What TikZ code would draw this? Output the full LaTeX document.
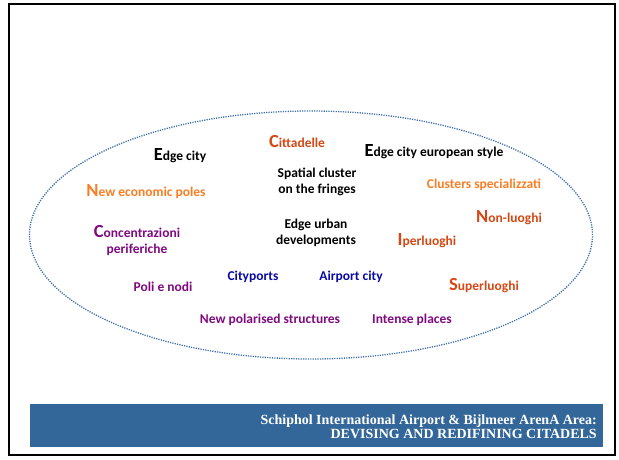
\documentclass[tikz,border=0pt]{standalone}
\usepackage{fontspec}
\setmainfont{Carlito}
\newfontfamily\bannerfont{Liberation Serif}
\usetikzlibrary{shapes.geometric}

\definecolor{ringblue}{RGB}{60,110,170}
\definecolor{bannerblue}{RGB}{52,103,153}
\definecolor{rustred}{RGB}{212,72,20}
\definecolor{lightorange}{RGB}{250,125,35}
\definecolor{plum}{RGB}{128,10,128}
\definecolor{navy}{RGB}{10,10,165}

\newcommand{\bigfirst}[2]{{\fontsize{18.5}{18}\selectfont #1}#2}

\tikzset{
  term/.style={font=\fontsize{13.5}{16}\selectfont\bfseries, align=center, inner sep=1pt},
  blackterm/.style={term, text=black},
  rustterm/.style={term, text=rustred},
  orangeterm/.style={term, text=lightorange},
  plumterm/.style={term, text=plum},
  navyterm/.style={term, text=navy}
}

\begin{document}
\begin{tikzpicture}[x=1pt,y=-1pt]
\useasboundingbox (0,0) rectangle (619,459);
\draw[line width=2.6pt] (9,4) rectangle (615,455);
\node[draw=ringblue, line width=1.3pt, dash pattern=on 1.2pt off 1.2pt, ellipse, minimum width=563pt, minimum height=248pt, inner sep=0pt] (ring) at (311,235) {};

\node[blackterm] (edgecity) at (180,156) {\bigfirst{E}{dge city}};
\node[rustterm] (cittadelle) at (297,141) {\bigfirst{C}{ittadelle}};
\node[blackterm] (edgeeuro) at (434,152) {\bigfirst{E}{dge city european style}};
\node[blackterm] (spatial) at (317,182) {Spatial cluster\\on the fringes};
\node[orangeterm] (neweco) at (146,192) {\bigfirst{N}{ew economic poles}};
\node[orangeterm] (clusters) at (484,185) {Clusters specializzati};
\node[rustterm] (nonluoghi) at (509,218) {\bigfirst{N}{on-luoghi}};
\node[plumterm] (concentr) at (137,240) {\bigfirst{C}{oncentrazioni}\\periferiche};
\node[blackterm] (edgeurban) at (316,233) {Edge urban\\developments};
\node[rustterm] (iperluoghi) at (427,241) {\bigfirst{I}{perluoghi}};
\node[navyterm] (cityports) at (253,277) {Cityports};
\node[navyterm] (airport) at (351,277) {Airport city};
\node[plumterm] (poli) at (163,287) {Poli e nodi};
\node[rustterm] (superluoghi) at (484,286) {\bigfirst{S}{uperluoghi}};
\node[plumterm] (newpolar) at (270,320) {New polarised structures};
\node[plumterm] (intense) at (412,320) {Intense places};

\fill[bannerblue] (30,404) rectangle (603,447);
\node[anchor=east, align=right, text=white, font=\bannerfont\bfseries\fontsize{14}{14.5}\selectfont, inner sep=0pt] (banner) at (597,426.5) {Schiphol International Airport \& Bijlmeer ArenA Area:\\DEVISING AND REDIFINING CITADELS};
\end{tikzpicture}
\end{document}
